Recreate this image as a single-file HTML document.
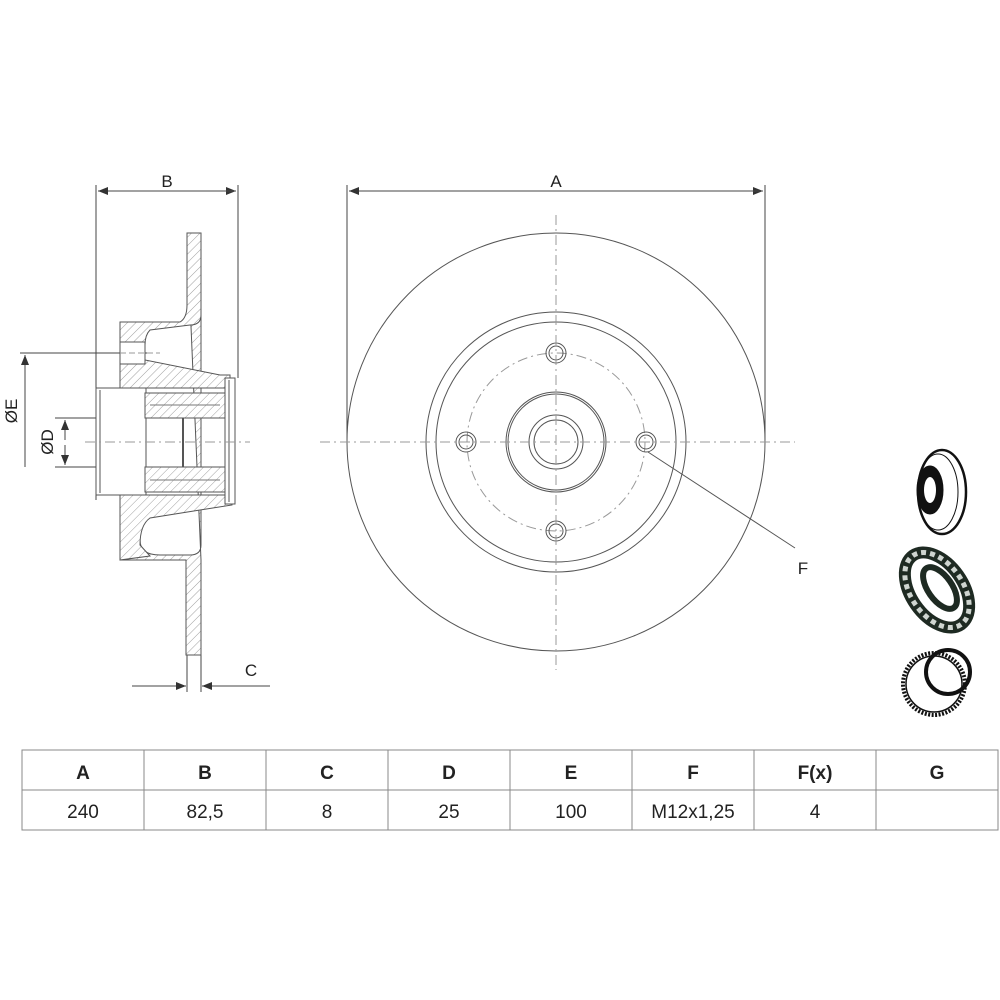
<!DOCTYPE html>
<html><head><meta charset="utf-8"><style>
html,body{margin:0;padding:0;background:#fff;}
svg{display:block;font-family:"Liberation Sans",sans-serif;}
</style></head><body>
<svg width="1000" height="1000" viewBox="0 0 1000 1000" xmlns="http://www.w3.org/2000/svg">
<defs>
<pattern id="h" patternUnits="userSpaceOnUse" width="6" height="6" patternTransform="rotate(45)">
<rect width="6" height="6" fill="#fff"/><line x1="0" y1="0" x2="0" y2="6" stroke="#888" stroke-width="0.8"/>
</pattern>
<marker id="ar" markerWidth="10" markerHeight="8" refX="10" refY="4" orient="auto" markerUnits="userSpaceOnUse"><path d="M0,0 L10,4 L0,8z" fill="#333"/></marker>
</defs>
<g stroke="#444" fill="none" stroke-width="1">
<line x1="347" y1="185" x2="347" y2="440"/><line x1="765" y1="185" x2="765" y2="440"/>
<line x1="349" y1="191" x2="763" y2="191" marker-end="url(#ar)"/><line x1="763" y1="191" x2="349" y2="191" marker-end="url(#ar)"/>
<line x1="96" y1="185" x2="96" y2="500"/><line x1="238" y1="185" x2="238" y2="378"/>
<line x1="98" y1="191" x2="236" y2="191" marker-end="url(#ar)"/><line x1="236" y1="191" x2="98" y2="191" marker-end="url(#ar)"/>
<line x1="187" y1="650" x2="187" y2="692"/><line x1="201" y1="650" x2="201" y2="692"/>
<line x1="132" y1="686" x2="186" y2="686" marker-end="url(#ar)"/><line x1="270" y1="686" x2="202" y2="686" marker-end="url(#ar)"/>
<line x1="20" y1="353" x2="150" y2="353"/>
<line x1="25" y1="467" x2="25" y2="355" marker-end="url(#ar)"/>
<line x1="55" y1="418" x2="150" y2="418"/><line x1="55" y1="467" x2="150" y2="467"/>
<line x1="65" y1="440" x2="65" y2="420" marker-end="url(#ar)"/><line x1="65" y1="445" x2="65" y2="465" marker-end="url(#ar)"/>
</g>
<g stroke="#555" stroke-width="1">
<path fill="url(#h)" d="M187,233 L201,233 L201,545 Q201,555 190,555 L160,555 Q140,555 140,540 L140,520 L150,515 L200,505 L230,505 L230,495 L120,495 L120,560 L186,560 L186,655 L201,655 L201,560 Z"/>
<path fill="url(#h)" d="M187,233 L201,233 L201,315 Q201,325 190,325 L150,330 Q145,335 145,345 L145,360 L220,375 L230,375 L230,388 L120,388 L120,322 L180,322 Q187,318 187,305 Z"/>
<path fill="url(#h)" d="M120,495 L232,495 L232,505 L200,510 L150,518 Q140,525 140,545 L150,556 L120,560 Z"/>
<rect x="120" y="342" width="25" height="22" fill="#fff"/>
<rect x="96" y="388" width="50" height="107" fill="#fff"/>
<line x1="100" y1="390" x2="100" y2="493"/>
<rect x="145" y="393" width="80" height="25" fill="url(#h)"/>
<rect x="145" y="467" width="80" height="25" fill="url(#h)"/>
<path d="M150,405 L220,405 M150,480 L220,480" stroke="#777"/>
<line x1="183" y1="418" x2="183" y2="467" stroke-width="2"/>
<rect x="225" y="378" width="10" height="126" fill="#fff"/>
<line x1="229" y1="380" x2="229" y2="502"/>
</g>
<line x1="85" y1="442" x2="250" y2="442" stroke="#999" stroke-dasharray="10,4,2,4"/>
<line x1="120" y1="353" x2="160" y2="353" stroke="#999" stroke-dasharray="6,3"/>
<g stroke="#555" fill="none" stroke-width="1">
<circle cx="556" cy="442" r="209"/>
<circle cx="556" cy="442" r="130"/>
<circle cx="556" cy="442" r="120"/>
<circle cx="556" cy="442" r="89" stroke="#999" stroke-dasharray="10,4,2,4"/>
<circle cx="556" cy="442" r="50"/><circle cx="556" cy="442" r="48"/>
<circle cx="556" cy="442" r="27"/><circle cx="556" cy="442" r="22"/>
<g><circle cx="556" cy="353" r="10"/><circle cx="556" cy="353" r="7"/>
<circle cx="556" cy="531" r="10"/><circle cx="556" cy="531" r="7"/>
<circle cx="466" cy="442" r="10"/><circle cx="466" cy="442" r="7"/>
<circle cx="646" cy="442" r="10"/><circle cx="646" cy="442" r="7"/></g>
<line x1="648" y1="452" x2="795" y2="548"/>
</g>
<line x1="320" y1="442" x2="795" y2="442" stroke="#999" stroke-dasharray="10,4,2,4"/>
<line x1="556" y1="215" x2="556" y2="670" stroke="#999" stroke-dasharray="10,4,2,4"/>
<g font-size="17" fill="#222" text-anchor="middle">
<text x="556" y="187">A</text><text x="167" y="187">B</text><text x="251" y="676">C</text><text x="803" y="574">F</text>
<text transform="translate(17,411) rotate(-90)">ØE</text>
<text transform="translate(53,442) rotate(-90)">ØD</text>
</g>
<g stroke="#111" fill="none">
<ellipse cx="942" cy="492" rx="24" ry="42" stroke-width="2.5"/>
<ellipse cx="938" cy="492" rx="20" ry="38" stroke-width="1"/>
<ellipse cx="930" cy="490" rx="13" ry="24" fill="#111"/>
<ellipse cx="930" cy="490" rx="6" ry="13" fill="#fff" stroke="none"/>
<ellipse cx="937" cy="590" rx="26" ry="42" transform="rotate(-35 937 590)" stroke="#1e2a22" stroke-width="12"/>
<ellipse cx="937" cy="590" rx="26" ry="42" transform="rotate(-35 937 590)" stroke="#cfd5d0" stroke-width="5" stroke-dasharray="5,4"/>
<ellipse cx="940" cy="588" rx="12" ry="24" transform="rotate(-35 940 588)" stroke="#1e2a22" stroke-width="6"/>
<circle cx="934" cy="684" r="31" stroke-width="4" stroke-dasharray="2,1.5"/>
<circle cx="934" cy="684" r="28" stroke-width="1.5"/>
<circle cx="948" cy="672" r="22" stroke-width="4"/>
</g>
<g stroke="#888" stroke-width="1" fill="none">
<rect x="22" y="750" width="976" height="80"/>
<line x1="22" y1="790" x2="998" y2="790"/>
<line x1="144" y1="750" x2="144" y2="830"/><line x1="266" y1="750" x2="266" y2="830"/>
<line x1="388" y1="750" x2="388" y2="830"/><line x1="510" y1="750" x2="510" y2="830"/>
<line x1="632" y1="750" x2="632" y2="830"/><line x1="754" y1="750" x2="754" y2="830"/>
<line x1="876" y1="750" x2="876" y2="830"/>
</g>
<g font-size="19" fill="#222" text-anchor="middle">
<g font-weight="bold"><text x="83" y="779">A</text><text x="205" y="779">B</text><text x="327" y="779">C</text><text x="449" y="779">D</text><text x="571" y="779">E</text><text x="693" y="779">F</text><text x="815" y="779">F(x)</text><text x="937" y="779">G</text></g>
<text x="83" y="818">240</text><text x="205" y="818">82,5</text><text x="327" y="818">8</text><text x="449" y="818">25</text><text x="571" y="818">100</text><text x="693" y="818">M12x1,25</text><text x="815" y="818">4</text>
</g>
</svg>
</body></html>
